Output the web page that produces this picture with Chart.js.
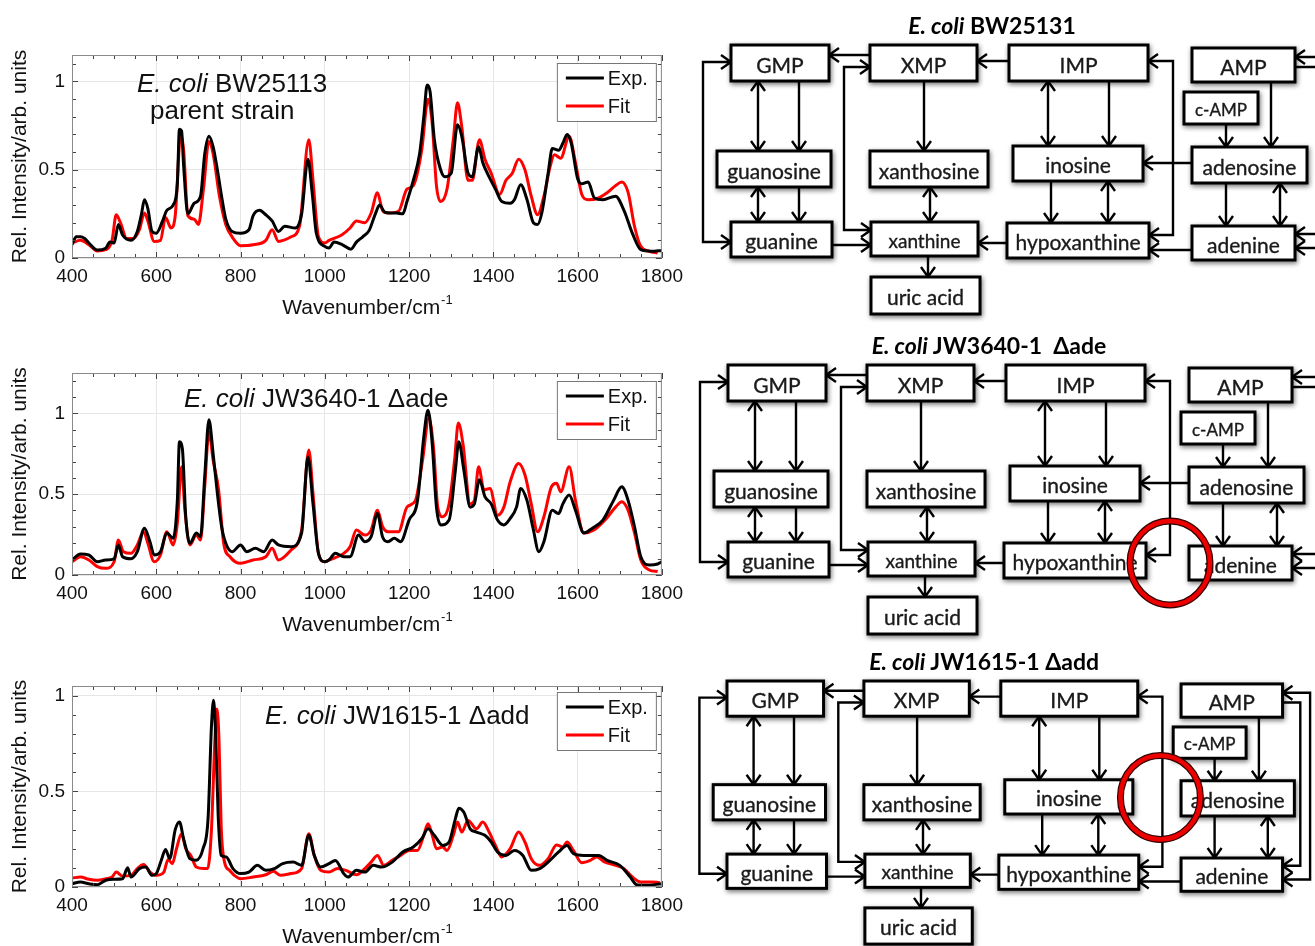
<!DOCTYPE html>
<html>
<head>
<meta charset="utf-8">
<script src="https://cdn.jsdelivr.net/npm/chart.js@4.4.0/dist/chart.umd.min.js"></script>
<style>
  body { margin: 0; background: #fff; width: 1315px; height: 946px; overflow: hidden; position: relative; }
  .plot { position: absolute; left: 0; }
  .note { position: absolute; font: 26px "Liberation Sans", Arial, sans-serif; line-height: 30px; color: #111; white-space: nowrap; }
  #paths { position: absolute; left: 0; top: 0; }
</style>
</head>
<body>

<canvas id="c1" class="plot" width="690" height="320" style="top:0"></canvas>
<canvas id="c2" class="plot" width="690" height="320" style="top:318px"></canvas>
<canvas id="c3" class="plot" width="690" height="320" style="top:631px"></canvas>

<div class="note" style="left:137px;top:68px"><i>E. coli</i> BW25113</div>
<div class="note" style="left:150px;top:95px">parent strain</div>
<div class="note" style="left:184px;top:383px"><i>E. coli</i> JW3640-1 &Delta;ade</div>
<div class="note" style="left:265px;top:700px"><i>E. coli</i> JW1615-1 &Delta;add</div>

<svg id="paths" width="1315" height="946"></svg>

<script>
// ---- spectra ----
// BW25113 parent strain
const bwExpX = [400,410,420,430,440,460,480,490,500,510,520,540,555,565,572,580,590,600,615,625,640,650,655,660,665,675,690,705,715,725,735,745,755,765,780,800,820,830,845,860,875,890,905,930,945,960,970,980,1000,1010,1022,1042,1062,1075,1090,1105,1120,1130,1142,1155,1170,1185,1195,1210,1225,1235,1243,1250,1260,1275,1285,1300,1315,1325,1340,1350,1365,1375,1390,1405,1420,1440,1450,1465,1480,1495,1505,1515,1530,1540,1555,1565,1575,1585,1600,1610,1625,1640,1660,1690,1710,1730,1750,1775,1800];
const bwExpY = [0.075,0.12,0.12,0.11,0.085,0.045,0.055,0.09,0.085,0.19,0.13,0.10,0.15,0.25,0.33,0.28,0.15,0.14,0.21,0.27,0.30,0.42,0.73,0.72,0.52,0.25,0.31,0.35,0.59,0.69,0.63,0.50,0.35,0.22,0.15,0.14,0.16,0.24,0.27,0.245,0.21,0.15,0.18,0.17,0.25,0.56,0.37,0.14,0.066,0.057,0.09,0.075,0.05,0.09,0.12,0.155,0.25,0.30,0.26,0.255,0.255,0.25,0.32,0.44,0.59,0.80,0.98,0.94,0.67,0.50,0.46,0.48,0.755,0.69,0.48,0.46,0.63,0.54,0.46,0.39,0.32,0.31,0.33,0.415,0.33,0.20,0.19,0.255,0.48,0.62,0.61,0.65,0.70,0.65,0.45,0.42,0.43,0.34,0.33,0.35,0.27,0.14,0.047,0.038,0.043];
const bwFitX = [400,420,440,460,480,495,505,515,530,545,560,572,580,595,610,622,635,645,658,665,675,690,700,712,725,735,750,765,780,800,830,860,875,890,920,940,962,972,985,1000,1010,1040,1060,1075,1095,1110,1125,1137,1150,1175,1195,1210,1230,1245,1255,1265,1275,1290,1305,1315,1325,1340,1350,1367,1380,1395,1415,1430,1445,1460,1475,1490,1505,1520,1535,1545,1560,1580,1595,1610,1625,1650,1670,1690,1705,1720,1735,1750,1770,1790];
const bwFitY = [0.085,0.10,0.075,0.04,0.047,0.10,0.245,0.20,0.11,0.11,0.16,0.255,0.21,0.094,0.10,0.23,0.17,0.24,0.70,0.61,0.24,0.22,0.19,0.39,0.66,0.59,0.35,0.19,0.12,0.07,0.075,0.10,0.16,0.094,0.12,0.18,0.67,0.44,0.12,0.085,0.10,0.13,0.17,0.21,0.20,0.255,0.37,0.27,0.255,0.265,0.39,0.41,0.61,0.90,0.76,0.41,0.32,0.39,0.67,0.88,0.745,0.44,0.44,0.67,0.56,0.48,0.36,0.44,0.48,0.56,0.50,0.35,0.245,0.35,0.52,0.585,0.565,0.69,0.54,0.36,0.33,0.34,0.37,0.41,0.43,0.37,0.18,0.066,0.038,0.028];

// JW3640-1 delta ade
const adeExpX = [400,420,440,460,480,500,510,520,540,555,572,585,595,610,625,640,650,655,662,670,680,695,705,715,725,735,745,755,765,780,800,815,835,855,875,890,920,945,960,972,985,1000,1010,1025,1045,1060,1080,1095,1110,1125,1137,1150,1165,1180,1200,1220,1235,1245,1255,1265,1275,1295,1310,1318,1330,1345,1355,1367,1380,1395,1410,1425,1440,1455,1465,1480,1495,1508,1520,1540,1555,1565,1580,1595,1615,1635,1660,1685,1705,1720,1735,1750,1770,1790,1800];
const adeExpY = [0.093,0.13,0.124,0.082,0.093,0.10,0.185,0.113,0.10,0.144,0.29,0.206,0.124,0.144,0.26,0.227,0.46,0.825,0.78,0.36,0.196,0.26,0.237,0.61,0.96,0.75,0.505,0.30,0.196,0.144,0.186,0.144,0.165,0.144,0.216,0.186,0.175,0.26,0.73,0.44,0.134,0.082,0.093,0.134,0.113,0.113,0.247,0.206,0.237,0.38,0.237,0.206,0.227,0.206,0.34,0.46,0.856,1.02,0.81,0.42,0.31,0.34,0.65,0.825,0.65,0.42,0.44,0.59,0.485,0.44,0.34,0.31,0.35,0.42,0.536,0.46,0.28,0.144,0.206,0.40,0.38,0.44,0.495,0.40,0.26,0.29,0.34,0.46,0.546,0.46,0.30,0.113,0.062,0.068,0.082];
const adeFitX = [400,420,440,460,480,500,510,522,540,555,570,580,595,610,625,640,650,660,668,680,695,705,715,725,735,748,760,775,800,830,860,875,890,920,945,962,972,985,1000,1010,1030,1045,1060,1075,1095,1110,1125,1137,1150,1175,1195,1215,1232,1247,1258,1268,1280,1295,1308,1317,1328,1345,1355,1365,1378,1392,1410,1425,1440,1460,1475,1490,1505,1520,1538,1550,1560,1580,1595,1615,1640,1665,1690,1705,1720,1735,1750,1770,1790];
const adeFitY = [0.082,0.113,0.093,0.052,0.041,0.082,0.216,0.144,0.134,0.186,0.268,0.196,0.082,0.124,0.268,0.186,0.32,0.67,0.40,0.186,0.247,0.216,0.546,0.887,0.71,0.526,0.196,0.113,0.072,0.093,0.113,0.165,0.093,0.155,0.278,0.773,0.505,0.134,0.082,0.093,0.113,0.134,0.175,0.278,0.247,0.278,0.40,0.30,0.268,0.268,0.42,0.46,0.71,0.97,0.79,0.42,0.36,0.44,0.71,0.94,0.81,0.44,0.46,0.67,0.526,0.536,0.37,0.42,0.577,0.69,0.62,0.44,0.268,0.36,0.546,0.567,0.515,0.67,0.46,0.26,0.28,0.34,0.42,0.454,0.40,0.26,0.093,0.031,0.021];

// JW1615-1 delta add
const addExpX = [400,420,440,460,480,500,520,532,540,560,575,590,600,612,622,632,645,655,665,680,695,711,723,731,736,741,747,754,766,782,800,820,840,860,880,900,925,945,962,975,990,1010,1025,1045,1055,1075,1095,1115,1135,1160,1185,1210,1230,1245,1260,1280,1295,1310,1318,1330,1345,1360,1380,1395,1410,1430,1450,1470,1490,1510,1530,1555,1575,1590,1615,1650,1670,1700,1725,1740,1760,1800];
const addExpY = [0.017,0.026,0.017,0.012,0.035,0.04,0.043,0.10,0.052,0.096,0.104,0.061,0.07,0.14,0.196,0.148,0.30,0.34,0.25,0.148,0.14,0.20,0.36,0.84,0.975,0.79,0.37,0.165,0.157,0.096,0.07,0.078,0.113,0.087,0.096,0.122,0.13,0.113,0.27,0.165,0.104,0.122,0.139,0.07,0.052,0.087,0.078,0.113,0.104,0.13,0.183,0.209,0.252,0.304,0.27,0.217,0.235,0.357,0.412,0.39,0.304,0.287,0.27,0.235,0.183,0.165,0.191,0.165,0.087,0.096,0.13,0.183,0.217,0.174,0.165,0.165,0.139,0.113,0.052,0.012,0.009,0.017];
const addFitX = [400,420,440,460,480,495,505,520,540,555,570,585,600,618,628,638,648,660,670,682,695,712,722,731,739,744,749,754,762,774,785,800,830,860,878,895,920,945,962,975,990,1010,1030,1050,1075,1095,1110,1125,1140,1160,1180,1200,1220,1235,1245,1255,1265,1280,1290,1305,1315,1325,1340,1360,1375,1390,1405,1420,1440,1460,1475,1490,1510,1530,1550,1565,1575,1590,1610,1630,1645,1665,1690,1710,1730,1750,1775,1795];
const addFitY = [0.047,0.052,0.04,0.035,0.043,0.052,0.078,0.057,0.061,0.096,0.117,0.078,0.061,0.078,0.144,0.122,0.20,0.278,0.20,0.165,0.104,0.096,0.096,0.30,0.76,0.93,0.76,0.32,0.13,0.087,0.061,0.043,0.052,0.064,0.082,0.061,0.07,0.096,0.278,0.165,0.087,0.078,0.096,0.087,0.064,0.096,0.13,0.165,0.113,0.139,0.165,0.191,0.191,0.27,0.33,0.27,0.20,0.209,0.191,0.27,0.339,0.287,0.348,0.304,0.339,0.287,0.217,0.157,0.20,0.287,0.235,0.148,0.113,0.148,0.22,0.209,0.235,0.191,0.127,0.139,0.157,0.13,0.113,0.096,0.052,0.026,0.026,0.023];

const seriesNames = ['Exp.', 'Fit'];
const xTickStep = 200;
const yTickStep = 0.5;

Chart.defaults.font.family = '"Liberation Sans", Arial, sans-serif';
Chart.defaults.color = '#111';

// box, inner ticks, inside legend and x title, MATLAB style
const decor = {
  id: 'decor',
  afterDatasetsDraw(chart, args, opts) {
    const { ctx, chartArea: a, scales: { x, y } } = chart;
    ctx.save();
    ctx.strokeStyle = '#444';
    ctx.lineWidth = 1;
    ctx.beginPath();
    for (let i = 0; i <= 28; i++) {
      const px = Math.round(x.getPixelForValue(400 + i * 50)) + 0.5;
      const len = i % 4 === 0 ? 6 : 4;
      ctx.moveTo(px, a.bottom); ctx.lineTo(px, a.bottom - len);
      ctx.moveTo(px, a.top); ctx.lineTo(px, a.top + len);
    }
    for (let i = 0; i / 10 <= y.max + 1e-9; i++) {
      const py = Math.round(y.getPixelForValue(i / 10)) + 0.5;
      const len = i % 5 === 0 ? 6 : 4;
      ctx.moveTo(a.left, py); ctx.lineTo(a.left + len, py);
      ctx.moveTo(a.right, py); ctx.lineTo(a.right - len, py);
    }
    ctx.stroke();
    ctx.strokeStyle = '#8a8a8a';
    ctx.strokeRect(a.left + 0.5, a.top + 0.5, a.right - a.left - 1, a.bottom - a.top - 1);

    // legend
    const w = 99, h = 58, lx = a.right - 6 - w, ly = a.top + opts.legendTop;
    ctx.fillStyle = '#fff';
    ctx.fillRect(lx, ly, w, h);
    ctx.strokeStyle = '#777';
    ctx.strokeRect(lx + 0.5, ly + 0.5, w, h);
    ctx.font = '20px "Liberation Sans", Arial, sans-serif';
    ctx.textBaseline = 'middle';
    chart.data.datasets.forEach((ds, i) => {
      const yy = ly + 15 + i * 28;
      ctx.strokeStyle = ds.borderColor;
      ctx.lineWidth = 3;
      ctx.beginPath(); ctx.moveTo(lx + 9, yy); ctx.lineTo(lx + 47, yy); ctx.stroke();
      ctx.fillStyle = '#111';
      ctx.fillText(ds.label, lx + 51, yy + 1);
    });

    // x title with superscript
    const main = 'Wavenumber/cm', sup = '-1';
    ctx.font = '21px "Liberation Sans", Arial, sans-serif';
    const w1 = ctx.measureText(main).width;
    ctx.font = '13px "Liberation Sans", Arial, sans-serif';
    const w2 = ctx.measureText(sup).width;
    const sx = (a.left + a.right) / 2 - (w1 + w2) / 2;
    const base = a.bottom + 56;
    ctx.textBaseline = 'alphabetic';
    ctx.font = '21px "Liberation Sans", Arial, sans-serif';
    ctx.fillText(main, sx, base);
    ctx.font = '13px "Liberation Sans", Arial, sans-serif';
    ctx.fillText(sup, sx + w1 + 1, base - 10);
    ctx.restore();
  }
};

function spectrum(id, expX, expY, fitX, fitY, yMax, xHeight, legendTop) {
  new Chart(document.getElementById(id), {
    type: 'line',
    data: {
      datasets: [
        { label: seriesNames[0], data: expX.map((v, i) => ({ x: v, y: expY[i] })),
          borderColor: '#000', borderWidth: 3, pointRadius: 0, cubicInterpolationMode: 'monotone' },
        { label: seriesNames[1], data: fitX.map((v, i) => ({ x: v, y: fitY[i] })),
          borderColor: '#f00', borderWidth: 3, pointRadius: 0, cubicInterpolationMode: 'monotone' }
      ]
    },
    options: {
      responsive: false,
      animation: false,
      layout: { padding: { top: 55, right: 27, left: 0, bottom: 0 } },
      plugins: { legend: { display: false }, tooltip: { enabled: false }, decor: { legendTop: legendTop } },
      scales: {
        x: {
          type: 'linear', min: 400, max: 1800,
          ticks: { stepSize: xTickStep, padding: 7, font: { size: 19 }, maxRotation: 0, callback: v => String(v) },
          grid: { color: '#e6e6e6', drawTicks: false },
          border: { display: false },
          afterFit: s => { s.height = xHeight; }
        },
        y: {
          min: 0, max: yMax,
          ticks: { stepSize: yTickStep, padding: 7, font: { size: 19 }, includeBounds: false, callback: v => String(v) },
          grid: { color: '#e6e6e6', drawTicks: false },
          border: { display: false },
          title: { display: true, text: 'Rel. Intensity/arb. units', font: { size: 21 }, padding: { top: 8, bottom: 0 } },
          afterFit: s => { s.width = 72; }
        }
      }
    },
    plugins: [decor]
  });
}

spectrum('c1', bwExpX, bwExpY, bwFitX, bwFitY, 1.15, 62, 8);
spectrum('c2', adeExpX, adeExpY, adeFitX, adeFitY, 1.25, 63, 8);
spectrum('c3', addExpX, addExpY, addFitX, addFitY, 1.05, 64, 6);

// ---- purine salvage schematics (layout of the first panel, others shifted) ----
const boxes = [
  ['GMP', 731, 45, 829, 81, 21], ['XMP', 870, 45, 977, 81, 21], ['IMP', 1009, 45, 1148, 81, 21],
  ['AMP', 1192, 48, 1295, 82, 21], ['c-AMP', 1184, 92, 1258, 124, 17],
  ['guanosine', 717, 151, 831, 187, 21], ['xanthosine', 870, 151, 988, 187, 21],
  ['inosine', 1013, 146, 1143, 181, 21], ['adenosine', 1192, 147, 1307, 183, 21],
  ['guanine', 731, 222, 832, 257, 21], ['xanthine', 871, 222, 978, 256, 19],
  ['hypoxanthine', 1007, 223, 1149, 258, 21], ['adenine', 1192, 226, 1295, 260, 21],
  ['uric acid', 871, 277, 980, 314, 21]
];
const links = [
  { id: 'xmp-gmp', pts: [[870, 55], [829, 55]], end: true },
  { id: 'imp-xmp', pts: [[1009, 61], [977, 61]], end: true },
  { id: 'gua-xan', pts: [[832, 245], [871, 245]], end: true },
  { id: 'hyp-xan', pts: [[1007, 243], [978, 243]], end: true },
  { id: 'ade-hyp', pts: [[1192, 250], [1149, 250]], end: true },
  { id: 'ados-ino', pts: [[1192, 163], [1143, 163]], end: true },
  { id: 'loopG', pts: [[731, 62], [703, 62], [703, 242], [731, 242]], start: true, end: true },
  { id: 'loopX', pts: [[870, 67], [844, 67], [844, 230], [871, 230]], start: true, end: true },
  { id: 'loopI', pts: [[1148, 61], [1173, 61], [1173, 235], [1149, 235]], start: true, end: true },
  { pts: [[758, 81], [758, 151]], start: true, end: true },
  { pts: [[799, 81], [799, 151]], end: true },
  { pts: [[758, 187], [758, 222]], start: true, end: true },
  { pts: [[799, 187], [799, 222]], end: true },
  { pts: [[924, 81], [924, 151]], end: true },
  { pts: [[930, 187], [930, 222]], start: true, end: true },
  { pts: [[928, 256], [928, 277]], end: true },
  { pts: [[1048, 81], [1048, 146]], start: true, end: true },
  { pts: [[1109, 81], [1109, 146]], end: true },
  { pts: [[1051, 181], [1051, 223]], end: true },
  { pts: [[1108, 181], [1108, 223]], start: true, end: true },
  { pts: [[1226, 124], [1226, 147]], end: true },
  { pts: [[1271, 82], [1271, 147]], end: true },
  { pts: [[1226, 183], [1226, 226]], end: true },
  { pts: [[1280, 183], [1280, 226]], start: true, end: true }
];
const panels = [
  { ox: 731, oy: 45, sx: 1, sy: 1, title: 'BW25131', skip: [], ampLoop: [1322, 1332] },
  { ox: 728, oy: 365, sx: 1, sy: 1, title: 'JW3640-1\u00a0\u00a0\u0394ade', skip: ['ade-hyp'], ring: [1173, 243], ampLoop: [1322, 1332] },
  { ox: 727, oy: 681, sx: 0.985, sy: 0.978, title: 'JW1615-1 \u0394add', skip: ['ados-ino'], ring: [1171, 164], ampLoop: [1313, 1323] }
];

function chevron(p, q) {
  const dx = q[0] - p[0], dy = q[1] - p[1], len = Math.hypot(dx, dy);
  const ux = dx / len, uy = dy / len, L = 10, W = 7;
  const bx = q[0] - ux * L, by = q[1] - uy * L;
  return `M${(bx - uy * W).toFixed(1)},${(by + ux * W).toFixed(1)} L${q[0].toFixed(1)},${q[1].toFixed(1)} L${(bx + uy * W).toFixed(1)},${(by - ux * W).toFixed(1)}`;
}

let svg = `<defs><filter id="glow" x="-20%" y="-30%" width="140%" height="160%">
  <feGaussianBlur in="SourceAlpha" stdDeviation="2.5"/><feOffset dx="1" dy="1.5"/>
  <feComponentTransfer><feFuncA type="linear" slope="0.55"/></feComponentTransfer>
  <feMerge><feMergeNode/><feMergeNode in="SourceGraphic"/></feMerge></filter></defs>`;

panels.forEach(pn => {
  const X = x => pn.ox + (x - 731) * pn.sx;
  const Y = y => pn.oy + (y - 45) * pn.sy;
  const [inner, outer] = pn.ampLoop;
  const extra = [
    { pts: [[1295, 67], [inner, 67], [inner, 234], [1295, 234]], end: true },
    { pts: [[1295, 57], [outer, 57], [outer, 248], [1295, 248]], start: true, end: true }
  ];
  svg += `<text x="${X(992)}" y="${pn.oy - 20}" font-family="Lato, 'Open Sans', sans-serif" font-weight="bold" font-size="23" text-anchor="middle" dominant-baseline="central" fill="#000"><tspan font-style="italic">E. coli</tspan> ${pn.title}</text>`;
  links.concat(extra).forEach(l => {
    if (l.id && pn.skip.includes(l.id)) return;
    const pts = l.pts.map(p => [X(p[0]), Y(p[1])]);
    let d = 'M' + pts.map(p => p[0].toFixed(1) + ',' + p[1].toFixed(1)).join(' L');
    if (l.end) d += ' ' + chevron(pts[pts.length - 2], pts[pts.length - 1]);
    if (l.start) d += ' ' + chevron(pts[1], pts[0]);
    svg += `<path d="${d}" fill="none" stroke="#000" stroke-width="2.4"/>`;
  });
  boxes.forEach(b => {
    const x1 = X(b[1]), y1 = Y(b[2]), x2 = X(b[3]), y2 = Y(b[4]);
    svg += `<rect x="${x1}" y="${y1}" width="${x2 - x1}" height="${y2 - y1}" fill="#fff" stroke="#000" stroke-width="3" filter="url(#glow)"/>`;
    svg += `<text x="${(x1 + x2) / 2}" y="${(y1 + y2) / 2 + 1}" font-family="Lato, 'Open Sans', sans-serif" font-size="${b[5]}" text-anchor="middle" dominant-baseline="central" fill="#1a1a1a" stroke="#1a1a1a" stroke-width="0.35">${b[0]}</text>`;
  });
  if (pn.ring) {
    const cx = X(pn.ring[0]), cy = Y(pn.ring[1]);
    svg += `<ellipse cx="${cx}" cy="${cy}" rx="40" ry="42" fill="none" stroke="#300" stroke-width="7"/>`;
    svg += `<ellipse cx="${cx}" cy="${cy}" rx="40" ry="42" fill="none" stroke="#e00" stroke-width="4.5"/>`;
  }
});
document.getElementById('paths').innerHTML = svg;
</script>
</body>
</html>
